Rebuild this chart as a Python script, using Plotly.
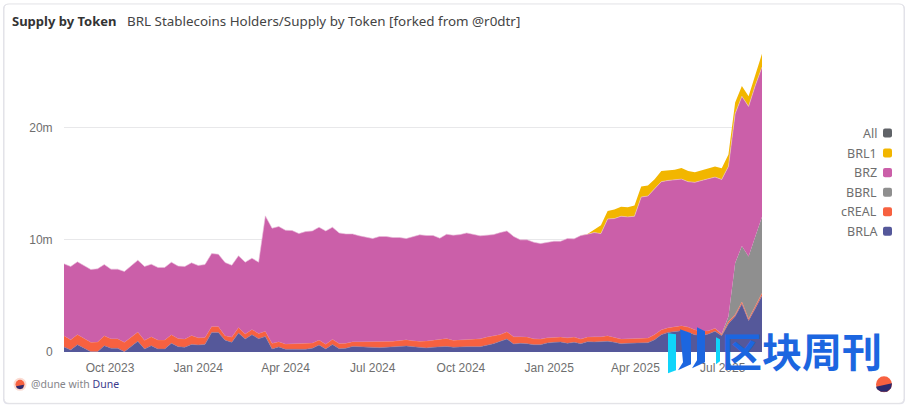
import pandas as pd
import plotly.graph_objects as go

# weekly points, values in millions
dates = pd.date_range('2023-08-14', '2025-08-11', freq='7D')

brla = [0.45,0.18,0.65,0.36,0.03,0.03,0.56,0.33,0.33,0.03,0.47,0.95,0.27,0.56,0.27,0.27,0.77,0.47,0.42,0.68,
        0.62,0.68,1.75,1.75,1.04,0.86,1.69,1.16,1.54,1.19,1.39,0.27,0.45,0.24,0.24,0.24,0.24,0.33,0.62,0.27,
        0.68,0.30,0.33,0.50,0.47,0.45,0.42,0.39,0.42,0.45,0.47,0.53,0.47,0.39,0.36,0.42,0.45,0.50,0.42,0.47,
        0.47,0.47,0.47,0.60,0.74,0.95,1.16,0.71,0.77,0.74,0.65,0.65,0.80,0.86,0.89,0.77,0.86,0.74,0.92,0.89,
        0.92,0.95,0.86,0.74,0.77,0.80,0.83,0.83,1.10,1.54,1.75,1.81,1.90,1.75,1.54,1.45,1.60,1.84,1.45,2.52,
        3.18,4.27,2.79,3.89,5.01]
creal = [1.01,0.92,0.92,0.86,0.83,0.86,0.89,0.86,0.86,0.83,0.83,0.83,0.77,0.80,0.80,0.80,0.77,0.74,0.74,0.80,
         0.65,0.62,0.53,0.53,0.42,0.47,0.50,0.45,0.47,0.47,0.47,0.50,0.47,0.47,0.50,0.50,0.50,0.47,0.45,0.42,
         0.45,0.45,0.45,0.42,0.45,0.47,0.50,0.50,0.47,0.50,0.56,0.56,0.53,0.56,0.62,0.62,0.68,0.71,0.62,0.60,
         0.68,0.71,0.71,0.74,0.68,0.60,0.65,0.65,0.60,0.60,0.53,0.50,0.47,0.47,0.45,0.50,0.47,0.42,0.42,0.47,
         0.45,0.50,0.42,0.42,0.42,0.42,0.42,0.42,0.45,0.45,0.42,0.47,0.45,0.47,0.45,0.40,0.30,0.27,0.12,0.20,
         0.15,0.18,0.15,0.18,0.24]
bbrl = [0]*98 + [0.05,0.45,4.60,5.00,5.58,6.23,6.82]
brz = [6.40,6.53,6.47,6.47,6.50,6.53,6.35,6.20,6.20,6.32,6.39,6.41,6.59,6.47,6.47,6.47,6.47,6.45,6.47,6.47,
       6.45,6.50,6.50,6.44,6.52,6.41,6.39,6.40,6.36,6.35,10.28,10.27,10.27,10.15,10.09,9.82,10.00,10.00,10.06,10.11,
       10.00,9.87,9.75,9.61,9.44,9.29,9.20,9.41,9.41,9.26,9.18,9.03,9.30,9.50,9.41,9.35,9.02,9.29,9.38,9.40,
       9.47,9.32,9.18,9.08,9.05,9.10,8.99,8.94,8.63,8.66,8.61,8.52,8.52,8.55,8.54,8.85,8.76,9.23,9.16,9.29,
       9.19,10.42,10.62,10.95,10.86,10.89,12.57,12.66,13.01,13.20,13.13,13.08,13.07,12.97,13.14,13.45,13.55,13.49,13.77,13.38,
       13.32,13.35,13.38,13.47,13.34]
brl1 = [0]*78 + [0.03,0.25,0.75,0.70,0.80,0.85,0.85,0.95,0.95,0.95,0.85,0.95,0.90,0.90,1.00,0.95,0.90,0.90,0.95,0.95,1.00,1.07,
                 1.00,0.93,0.90,0.95,1.20]

x_ticks = ['2023-10-01','2024-01-01','2024-04-01','2024-07-01','2024-10-01','2025-01-01','2025-04-01','2025-07-01']
y_ticks = [0, 10, 20]
y_labels = ['0', '10m', '20m']
legend_names = ['All', 'BRL1', 'BRZ', 'BBRL', 'cREAL', 'BRLA']
legend_colors = ['#606368', '#f2b600', '#cb5fa9', '#8f8f8f', '#f76140', '#55589a']

L, R, T, B = 64, 762, 45, 351.7
FONT = 'Noto Sans'
TICK_FONT = 'Liberation Sans'
TICK_GRAY = '#6e6e6e'


# page pixels to paper coords
def px(x, y):
    return (x - L) / (R - L), (B - y) / (B - T)


def rrect(x0, y0, x1, y1, r):
    a, b = px(x0, y0), px(x1, y1)
    rx, ry = r / (R - L), r / (B - T)
    return (f'M{a[0]+rx},{a[1]} L{b[0]-rx},{a[1]} Q{b[0]},{a[1]} {b[0]},{a[1]-ry} '
            f'L{b[0]},{b[1]+ry} Q{b[0]},{b[1]} {b[0]-rx},{b[1]} L{a[0]+rx},{b[1]} '
            f'Q{a[0]},{b[1]} {a[0]},{b[1]+ry} L{a[0]},{a[1]-ry} Q{a[0]},{a[1]} {a[0]+rx},{a[1]} Z')


def poly(points):
    pts = [px(*p) for p in points]
    return 'M' + ' L'.join(f'{p[0]},{p[1]}' for p in pts) + ' Z'


def circle(cx, cy, r, color):
    a, b = px(cx - r, cy - r), px(cx + r, cy + r)
    return dict(type='circle', xref='paper', yref='paper', x0=a[0], y0=b[1], x1=b[0], y1=a[1],
                fillcolor=color, line_width=0, layer='above')


def text(x, y, s, size=12, color=TICK_GRAY, anchor='left', family=FONT):
    a = px(x, y)
    return dict(xref='paper', yref='paper', x=a[0], y=a[1], text=s, showarrow=False, xanchor=anchor,
                yanchor='middle', font=dict(size=size, color=color, family=family),
                borderpad=0, xshift=0, yshift=0)


fig = go.Figure()
for name, vals, color, edge, lw in [
    ('BRLA', brla, '#55589a', '#7678b0', 0.5),
    ('cREAL', creal, '#f76140', '#f98a70', 0.5),
    ('BBRL', bbrl, '#8f8f8f', '#8f8f8f', 0),
    ('BRZ', brz, '#cb5fa9', '#e8bcd9', 0.6),
    ('BRL1', brl1, '#f2b600', '#f2b600', 0),
]:
    fig.add_trace(go.Scatter(
        x=dates, y=vals, name=name, mode='lines', stackgroup='one',
        fillcolor=color, line=dict(color=edge, width=lw), showlegend=False,
    ))

shapes = [
    dict(type='path', xref='paper', yref='paper', path=rrect(3, 4, 905, 404, 5),
         fillcolor='#e3e3ec', line_width=0, layer='below'),
    dict(type='path', xref='paper', yref='paper', path=rrect(4, 4, 904, 403, 5),
         fillcolor='white', line=dict(color='#e2e2e6', width=1), layer='below'),
]
annotations = [
    text(11, 21, '<b>Supply by Token</b>', size=13, color='#333333'),
    text(126, 21, 'BRL Stablecoins Holders/Supply by Token [forked from @r0dtr]', size=13.4, color='#444444'),
    text(30, 384, '@dune with <span style="color:#3b3a8c">Dune</span>', size=10.5, color='#85858a'),
]

# hand drawn legend, text sits left of the swatch
for name, color, y in zip(legend_names, legend_colors, [133, 153, 172.5, 192, 211.5, 231]):
    annotations.append(text(878, y, name, size=12.5, anchor='right'))
    shapes.append(dict(type='path', xref='paper', yref='paper', path=rrect(883, y - 4.5, 892, y + 4.5, 2),
                       fillcolor=color, line_width=0, layer='above'))

# dune marks
shapes += [
    circle(20, 384, 6.5, '#fbdcd3'),
    circle(20, 384, 4.5, '#f76140'),
    dict(type='path', xref='paper', yref='paper', fillcolor='#2c2a6e', line_width=0, layer='above',
         path=poly([(16, 386), (24, 384.5), (23, 388), (20, 389), (17, 388)])),
    circle(884, 384, 8, '#f76140'),
    dict(type='path', xref='paper', yref='paper', fillcolor='#2c2a6e', line_width=0, layer='above',
         path=poly([(876, 386.5), (892, 383), (891, 388), (887, 391.5), (881, 391.5), (877, 389)])),
]

# watermark on top of the picture
shapes += [
    dict(type='path', xref='paper', yref='paper', fillcolor='#10d4fa', line_width=0, layer='above',
         path=poly([(668, 333), (676, 334), (676, 370), (668, 373)])),
    dict(type='path', xref='paper', yref='paper', fillcolor='#1c66e0', line_width=0, layer='above',
         path=poly([(680, 329), (691, 333), (691, 364), (678, 370), (683, 362)])),
    dict(type='path', xref='paper', yref='paper', fillcolor='#1c66e0', line_width=0, layer='above',
         path=poly([(697, 327), (705, 331), (705, 362), (692, 368), (697, 360)])),
    dict(type='path', xref='paper', yref='paper', fillcolor='#10d4fa', line_width=0, layer='above',
         path=poly([(716, 337), (720, 339), (720, 361), (716, 364)])),
]
annotations.append(text(721, 350, '<b>区块周刊</b>', size=40, color='#1c66e0', family='Noto Sans CJK SC'))

fig.update_layout(
    width=908, height=412,
    margin=dict(l=L, r=908 - R, t=T, b=412 - B, pad=0),
    paper_bgcolor='white', plot_bgcolor='rgba(0,0,0,0)',
    font=dict(family=TICK_FONT, size=12, color=TICK_GRAY),
    showlegend=False,
    shapes=shapes, annotations=annotations,
    xaxis=dict(
        type='date', range=[dates[0], dates[-1]], tickvals=x_ticks, tickformat='%b %Y',
        showgrid=False, zeroline=False, showline=False,
        ticks='outside', ticklen=5, tickcolor='rgba(0,0,0,0)',
    ),
    yaxis=dict(
        range=[0, 27.38], tickvals=y_ticks, ticktext=y_labels,
        showgrid=True, gridcolor='#e8e8ea', gridwidth=1, zeroline=False, showline=False,
        ticks='outside', ticklen=8, tickcolor='rgba(0,0,0,0)',
    ),
)

# the page body has a default margin, the chart fills the window
fig.write_html("out.html", config=dict(displayModeBar=False),
               post_script="document.body.style.margin='0';document.documentElement.style.overflow='hidden';")
